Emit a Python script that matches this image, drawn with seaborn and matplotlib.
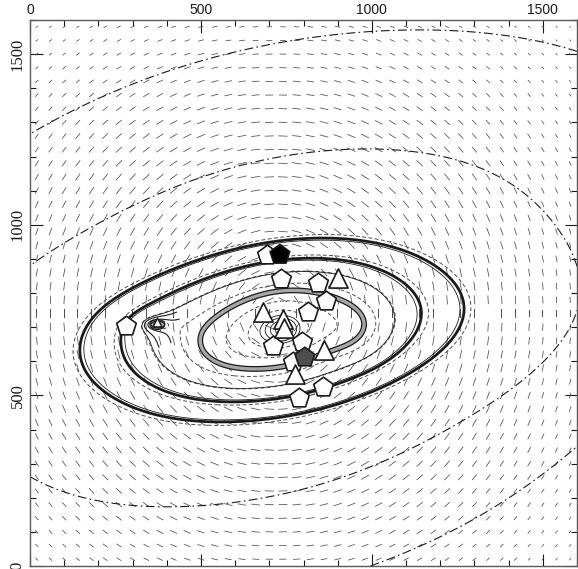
import numpy as np
import pandas as pd
import matplotlib
matplotlib.use("Agg")
import matplotlib.pyplot as plt
from matplotlib.ticker import MultipleLocator
import seaborn as sns

# lens model components: broad halo, elongated core, central peak, sub-clump, east lobe, tidal tilt
comp_kind = ["iso", "gauss", "iso", "iso", "gauss", "grad"]
comp_x = [700, 720, 738, 371, 935, 700]
comp_y = [690, 690, 692, 708, 695, 690]
comp_amp = [1.0, 0.0055, 0.25, 0.06, 0.0018, 5e-8]
comp_core = [150, 350, 12, 8, 70, 0]
comp_q = [0.49, 0.38, 0.8, 0.5, 0.8, 1]
comp_ang = [22, 6, 0, 0, 0, 118]

dashdot_x = [0, 0]
dashdot_y = [1266, 880]
thick_x = [146, 1140]
thick_y = [625, 710]
grey_x = [506]
grey_y = [690]
dashed_x = [126, 1160, 330, 440, 580, 640]
dashed_y = [625, 710, 690, 690, 690, 690]
thin_x = [158, 1128, 328, 729, 718, 703, 688, 673]
thin_y = [625, 710, 708, 692, 692, 692, 692, 692]
sub_ring_x = [335, 345, 354, 362]
sub_ring_y = [708, 708, 708, 708]

# shear stick field
stick_cx, stick_cy = 720, 740
stick_q = 0.9
stick_max = 28
stick_r0 = 980
stick_k = 5.2

# galaxies
pent_x = [281, 693, 734, 842, 866, 813, 711, 796, 769, 857, 787]
pent_y = [702, 912, 842, 828, 778, 743, 646, 655, 597, 526, 491]
pent_fill_x = [731, 804]
pent_fill_y = [912, 611]
pent_fill_c = ["black", "0.3"]
tri_x = [901, 681, 740, 743, 860, 775]
tri_y = [845, 743, 725, 696, 632, 564]
tri_small_x = [371]
tri_small_y = [714]


def field(xx, yy):
    f = np.zeros(np.shape(xx), dtype=float)
    for kind, cx, cy, a, c, q, ang in zip(comp_kind, comp_x, comp_y, comp_amp,
                                          comp_core, comp_q, comp_ang):
        t = np.deg2rad(ang)
        dx, dy = np.asarray(xx) - cx, np.asarray(yy) - cy
        u = dx * np.cos(t) + dy * np.sin(t)
        v = -dx * np.sin(t) + dy * np.cos(t)
        m2 = u ** 2 + (v / q) ** 2
        if kind == "iso":
            f = f + a / np.sqrt(m2 + c ** 2)
        elif kind == "gauss":
            f = f + a * np.exp(-m2 / (2 * c ** 2))
        else:
            f = f + a * u
    return f


def levels_at(px, py):
    return sorted(set(np.round(field(np.array(px), np.array(py)), 12)))


sns.set_theme(style="ticks")
plt.rcParams["font.family"] = ["Liberation Sans", "DejaVu Sans"]

fig = plt.figure(figsize=(5.78, 5.69), dpi=100)
ax = fig.add_axes([30 / 578, 3 / 569, 547 / 578, 546 / 569])

g = np.linspace(0, 1600, 641)
X, Y = np.meshgrid(g, g)
F = field(X, Y)

# shear sticks
sx = np.arange(20, 1600, 40)
SX, SY = np.meshgrid(sx, sx)
dx, dy = SX - stick_cx, SY - stick_cy
rs = np.sqrt(dx ** 2 + (dy / stick_q) ** 2)
L = stick_max / (1 + (rs / stick_r0) ** stick_k)
phi = np.arctan2(dy, dx) + np.pi / 2
ax.quiver(SX, SY, L * np.cos(phi), L * np.sin(phi), angles="xy", scale_units="xy",
          scale=1, headwidth=0, headlength=0, headaxislength=0, pivot="middle",
          width=0.0014, color="0.3", zorder=1)

# contours
ax.contour(X, Y, F, levels=levels_at(dashdot_x, dashdot_y), colors="k",
           linewidths=0.8, linestyles=[(0, (8, 3, 1.5, 3))], zorder=2)
ax.contour(X, Y, F, levels=levels_at(dashed_x, dashed_y), colors="0.3",
           linewidths=0.7, linestyles=[(0, (4, 2.5))], zorder=2)
ax.contour(X, Y, F, levels=levels_at(thin_x, thin_y), colors="k",
           linewidths=0.6, linestyles="solid", zorder=2)
ax.contour(X, Y, F, levels=levels_at(thick_x, thick_y), colors="k",
           linewidths=2.0, linestyles="solid", zorder=3)
ax.contour(X, Y, F, levels=levels_at(grey_x, grey_y), colors="k",
           linewidths=4.2, zorder=3)
ax.contour(X, Y, F, levels=levels_at(grey_x, grey_y), colors="0.65",
           linewidths=2.4, zorder=3)
Fsub = np.ma.masked_where(np.hypot(X - comp_x[3], Y - comp_y[3]) > 70, F)
ax.contour(X, Y, Fsub, levels=levels_at(sub_ring_x, sub_ring_y), colors="k",
           linewidths=0.8, zorder=3)

# galaxies
pent = pd.DataFrame({"x": pent_x, "y": pent_y})
tri = pd.DataFrame({"x": tri_x, "y": tri_y})
sns.scatterplot(data=pent, x="x", y="y", marker="p", s=220, facecolor="white",
                edgecolor="k", linewidth=1.2, ax=ax, zorder=5)
sns.scatterplot(data=tri, x="x", y="y", marker="^", s=190, facecolor="white",
                edgecolor="k", linewidth=1.2, ax=ax, zorder=5)
sns.scatterplot(x=tri_small_x, y=tri_small_y, marker="^", s=40, facecolor="white",
                edgecolor="k", linewidth=1.0, ax=ax, zorder=5)
ax.scatter(pent_fill_x, pent_fill_y, marker="p", s=220, c=pent_fill_c,
           edgecolors="k", linewidths=1.2, zorder=6)

ax.set_xlim(0, 1600)
ax.set_ylim(0, 1600)
ax.set_xlabel("")
ax.set_ylabel("")
ax.set_xticks([0, 500, 1000, 1500])
ax.set_yticks([0, 500, 1000, 1500])
ax.xaxis.set_minor_locator(MultipleLocator(100))
ax.yaxis.set_minor_locator(MultipleLocator(100))
ax.tick_params(which="both", direction="in", top=True, bottom=True, left=True,
               right=True, labeltop=True, labelbottom=False, colors="k")
ax.tick_params(which="major", length=9, width=0.8)
ax.tick_params(which="minor", length=4, width=0.8)
ax.tick_params(axis="x", labelsize=10, pad=2)
for lab in ax.get_yticklabels():
    lab.set_rotation(90)
    lab.set_va("center")
    lab.set_family("Liberation Serif")
    lab.set_fontsize(12)
ax.tick_params(axis="y", pad=3)
for sp in ax.spines.values():
    sp.set_color("0.35")
    sp.set_linewidth(1.0)

fig.savefig("out.png", dpi=100)
